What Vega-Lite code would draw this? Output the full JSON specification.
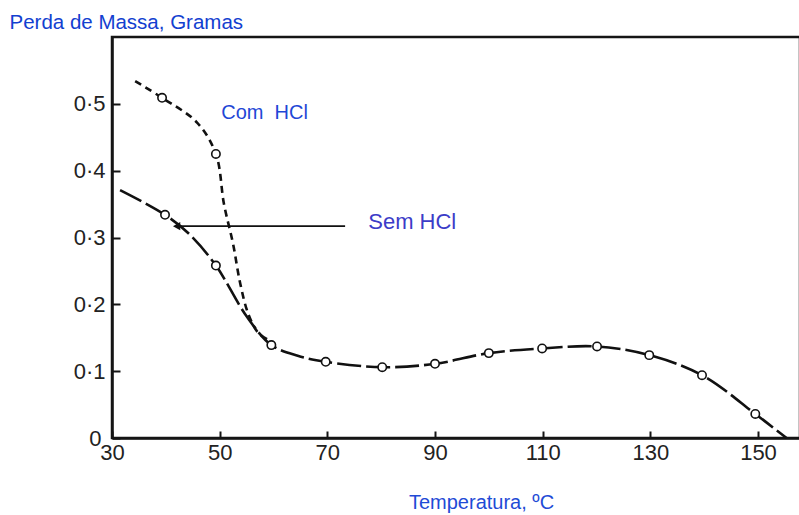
{
  "$schema": "https://vega.github.io/schema/vega-lite/v6.json",
  "width": 688,
  "height": 401,
  "autosize": "none",
  "padding": {"left": 112, "top": 37, "right": 0, "bottom": 77},
  "background": "white",
  "config": {
    "view": {"stroke": "#151515", "strokeWidth": 2.5},
    "axis": {"grid": false}
  },
  "datasets": {
    "sem": [
      {"temp": 31.5, "mass": 0.371},
      {"temp": 39.85, "mass": 0.334},
      {"temp": 44.5, "mass": 0.304},
      {"temp": 49.3, "mass": 0.258},
      {"temp": 55.1, "mass": 0.181},
      {"temp": 59.6, "mass": 0.139},
      {"temp": 64.5, "mass": 0.123},
      {"temp": 69.7, "mass": 0.114},
      {"temp": 80.2, "mass": 0.106},
      {"temp": 90.0, "mass": 0.111},
      {"temp": 100.0, "mass": 0.127},
      {"temp": 109.9, "mass": 0.134},
      {"temp": 120.1, "mass": 0.137},
      {"temp": 129.8, "mass": 0.124},
      {"temp": 139.6, "mass": 0.094},
      {"temp": 149.5, "mass": 0.036},
      {"temp": 155.3, "mass": 0.0}
    ],
    "com": [
      {"temp": 34.3, "mass": 0.534},
      {"temp": 39.3, "mass": 0.509},
      {"temp": 45.8, "mass": 0.472},
      {"temp": 49.3, "mass": 0.425},
      {"temp": 50.8, "mass": 0.35},
      {"temp": 52.5, "mass": 0.29},
      {"temp": 53.8, "mass": 0.232},
      {"temp": 55.3, "mass": 0.186},
      {"temp": 57.1, "mass": 0.158},
      {"temp": 58.8, "mass": 0.148}
    ],
    "points": [
      {"serie": "Com HCl", "temp": 39.3, "mass": 0.509},
      {"serie": "Com HCl", "temp": 49.3, "mass": 0.425},
      {"serie": "Sem HCl", "temp": 39.85, "mass": 0.334},
      {"serie": "Sem HCl", "temp": 49.3, "mass": 0.258},
      {"serie": "Sem HCl", "temp": 59.6, "mass": 0.139},
      {"serie": "Sem HCl", "temp": 69.7, "mass": 0.114},
      {"serie": "Sem HCl", "temp": 80.2, "mass": 0.106},
      {"serie": "Sem HCl", "temp": 90.0, "mass": 0.111},
      {"serie": "Sem HCl", "temp": 100.0, "mass": 0.127},
      {"serie": "Sem HCl", "temp": 109.9, "mass": 0.134},
      {"serie": "Sem HCl", "temp": 120.1, "mass": 0.137},
      {"serie": "Sem HCl", "temp": 129.8, "mass": 0.124},
      {"serie": "Sem HCl", "temp": 139.6, "mass": 0.094},
      {"serie": "Sem HCl", "temp": 149.5, "mass": 0.036}
    ],
    "arrow": [
      {"temp": 73.3, "mass": 0.317},
      {"temp": 42.4, "mass": 0.317}
    ],
    "arrowhead": [
      {"temp": 42.0, "mass": 0.317}
    ],
    "labels": [
      {"label": "Com\u00a0\u00a0HCl", "temp": 50.3, "mass": 0.487, "kind": "com"},
      {"label": "Sem HCl", "temp": 77.6, "mass": 0.323, "kind": "sem"}
    ]
  },
  "encoding": {
    "x": {
      "field": "temp",
      "type": "quantitative",
      "scale": {"domain": [30, 157.8], "nice": false, "zero": false},
      "axis": {
        "values": [30, 50, 70, 90, 110, 130, 150],
        "title": "Temperatura, ºC",
        "titleX": 369,
        "titleY": 64,
        "titleAlign": "center",
        "titleBaseline": "middle",
        "titleFont": "Liberation Sans",
        "titleFontSize": 20,
        "titleFontWeight": "normal",
        "titleColor": "#1f4bd6",
        "labelFont": "Liberation Sans",
        "labelFontSize": 22,
        "labelColor": "#222222",
        "labelPadding": 11,
        "labelFlush": false,
        "tickSize": -7,
        "tickWidth": 2,
        "tickColor": "#151515",
        "domainColor": "#151515",
        "domainWidth": 2.5
      }
    },
    "y": {
      "field": "mass",
      "type": "quantitative",
      "scale": {"domain": [0, 0.6], "nice": false, "zero": true},
      "axis": {
        "values": [0, 0.1, 0.2, 0.3, 0.4, 0.5],
        "labelExpr": "datum.value == 0 ? '0' : replace(format(datum.value, '.1f'), '.', '·')",
        "title": "Perda de Massa, Gramas",
        "titleAngle": 0,
        "titleAlign": "left",
        "titleBaseline": "middle",
        "titleX": -103,
        "titleY": -15,
        "titleFont": "Liberation Sans",
        "titleFontSize": 20.5,
        "titleFontWeight": "normal",
        "titleColor": "#1240d0",
        "labelFont": "Liberation Sans",
        "labelFontSize": 22,
        "labelColor": "#222222",
        "labelPadding": {"condition": {"test": "datum.value == 0", "value": 19}, "value": 15},
        "labelFlush": false,
        "tickSize": -8,
        "tickWidth": 2,
        "tickColor": "#151515",
        "domainColor": "#151515",
        "domainWidth": 2.5
      }
    }
  },
  "layer": [
    {
      "data": {"name": "sem"},
      "mark": {"type": "line", "interpolate": "catmull-rom", "color": "#111111", "strokeWidth": 2.6, "strokeDash": [24, 5]}
    },
    {
      "data": {"name": "com"},
      "mark": {"type": "line", "interpolate": "catmull-rom", "color": "#111111", "strokeWidth": 2.6, "strokeDash": [7, 5]}
    },
    {
      "data": {"name": "points"},
      "mark": {"type": "point", "shape": "circle", "filled": false, "fill": "white", "fillOpacity": 1, "stroke": "#111111", "strokeWidth": 1.6, "size": 70, "opacity": 1}
    },
    {
      "data": {"name": "arrow"},
      "mark": {"type": "line", "color": "#111111", "strokeWidth": 1.6}
    },
    {
      "data": {"name": "arrowhead"},
      "mark": {"type": "point", "shape": "triangle-left", "filled": true, "color": "#111111", "size": 70, "opacity": 1}
    },
    {
      "data": {"name": "labels"},
      "transform": [{"filter": "datum.kind == 'com'"}],
      "mark": {"type": "text", "align": "left", "baseline": "middle", "font": "Liberation Sans", "fontSize": 20, "color": "#1f47d6"},
      "encoding": {"text": {"field": "label"}}
    },
    {
      "data": {"name": "labels"},
      "transform": [{"filter": "datum.kind == 'sem'"}],
      "mark": {"type": "text", "align": "left", "baseline": "middle", "font": "Liberation Sans", "fontSize": 22, "color": "#3c3cc8"},
      "encoding": {"text": {"field": "label"}}
    }
  ]
}
